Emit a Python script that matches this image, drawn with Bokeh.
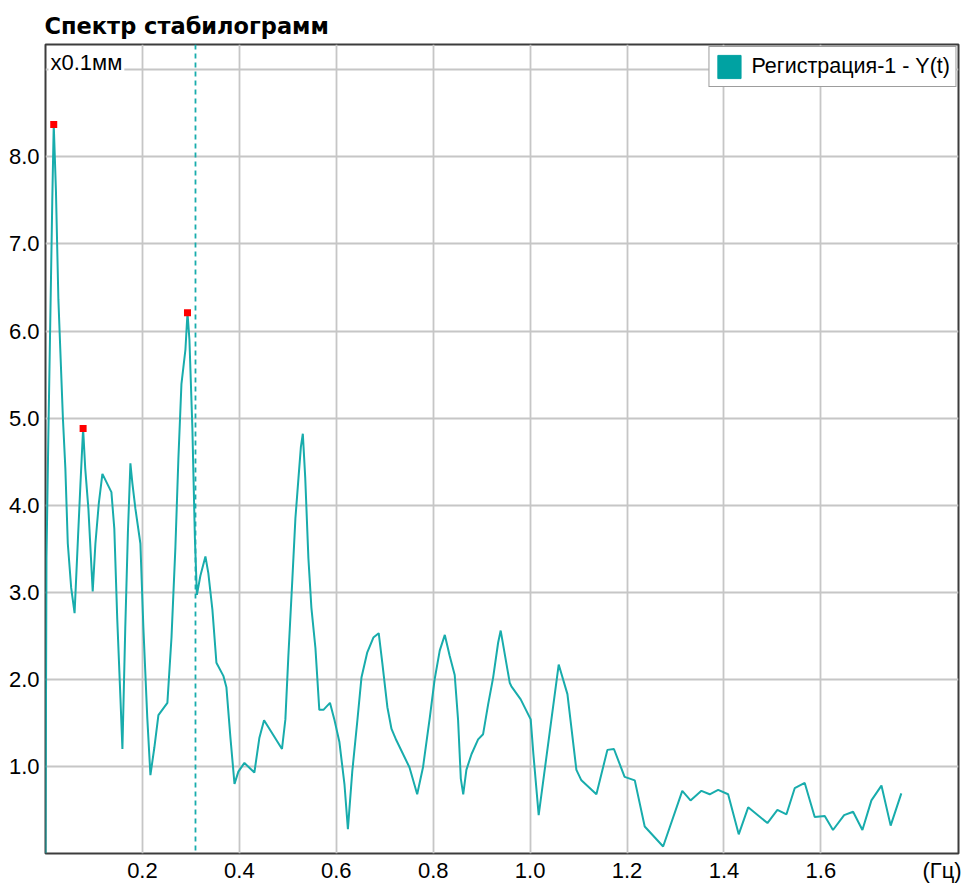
from bokeh.plotting import figure
from bokeh.models import (Range1d, FixedTicker, Span, Label, Legend, LegendItem,
                          NumeralTickFormatter)
from bokeh.embed import file_html
from bokeh.resources import INLINE

# ---------------- data ----------------
TITLE = "Спектр стабилограмм"
SERIES_NAME = "Регистрация-1 - Y(t)"
Y_UNIT = "x0.1мм"
X_UNIT = "(Гц)"

freq = [0.0, 0.002, 0.006, 0.010, 0.014, 0.017, 0.0215, 0.0266, 0.036, 0.041,
        0.046, 0.053, 0.060, 0.067, 0.072, 0.0776, 0.082, 0.0885, 0.0974, 0.103,
        0.110, 0.1174, 0.136, 0.142, 0.148, 0.1546, 0.1587, 0.1646, 0.170, 0.1752,
        0.1793, 0.1855, 0.1958, 0.202, 0.210, 0.2165, 0.2247, 0.233, 0.2515, 0.260,
        0.268, 0.2742, 0.2805, 0.2888, 0.293, 0.297, 0.3031, 0.3083, 0.3124, 0.3196,
        0.330, 0.336, 0.3444, 0.3527, 0.367, 0.3733, 0.3816, 0.390, 0.398, 0.4105,
        0.431, 0.4414, 0.451, 0.488, 0.495, 0.501, 0.5095, 0.5157, 0.522, 0.527,
        0.531, 0.536, 0.5425, 0.5487, 0.557, 0.565, 0.5735, 0.587, 0.596, 0.6065,
        0.617, 0.624, 0.633, 0.6436, 0.652, 0.664, 0.6766, 0.6876, 0.695, 0.7055,
        0.714, 0.724, 0.751, 0.767, 0.779, 0.793, 0.803, 0.8135, 0.824, 0.834,
        0.8444, 0.8514, 0.857, 0.862, 0.8685, 0.879, 0.8927, 0.903, 0.9133, 0.9237,
        0.934, 0.9393, 0.958, 0.9614, 0.9806, 1.0012, 1.0068, 1.0177, 1.059, 1.077,
        1.0955, 1.1058, 1.1368, 1.1595, 1.173, 1.195, 1.216, 1.2365, 1.2745, 1.314,
        1.331, 1.3535, 1.3706, 1.388, 1.4086, 1.4305, 1.45, 1.4897, 1.5103, 1.529,
        1.546, 1.5667, 1.5873, 1.608, 1.625, 1.648, 1.6665, 1.6857, 1.7043, 1.725,
        1.744, 1.766]

amp = [0.0, 3.39, 4.84, 6.16, 7.50, 8.37, 7.62, 6.36, 4.99, 4.42,
       3.56, 3.05, 2.76, 3.62, 4.23, 4.88, 4.42, 3.96, 3.01, 3.56,
       4.02, 4.36, 4.15, 3.73, 2.70, 1.79, 1.20, 2.59, 3.68, 4.48,
       4.25, 3.96, 3.56, 2.59, 1.56, 0.90, 1.22, 1.59, 1.73, 2.48,
       3.51, 4.53, 5.39, 5.79, 6.21, 5.90, 4.88, 3.62, 2.97, 3.19,
       3.41, 3.22, 2.80, 2.19, 2.04, 1.91, 1.33, 0.80, 0.94, 1.04,
       0.93, 1.33, 1.53, 1.20, 1.54, 2.25, 3.16, 3.85, 4.31, 4.67,
       4.82, 4.31, 3.39, 2.82, 2.36, 1.65, 1.65, 1.73, 1.54, 1.28,
       0.79, 0.28, 0.94, 1.53, 2.02, 2.31, 2.48, 2.53, 2.19, 1.68,
       1.43, 1.30, 0.99, 0.68, 0.99, 1.56, 2.00, 2.33, 2.51, 2.27,
       2.05, 1.53, 0.86, 0.68, 0.96, 1.14, 1.31, 1.37, 1.71, 2.02,
       2.42, 2.56, 1.96, 1.92, 1.77, 1.54, 1.14, 0.44, 2.17, 1.83,
       0.96, 0.84, 0.68, 1.19, 1.20, 0.88, 0.84, 0.31, 0.08, 0.72,
       0.61, 0.72, 0.68, 0.73, 0.68, 0.22, 0.53, 0.35, 0.50, 0.45,
       0.75, 0.81, 0.42, 0.43, 0.27, 0.44, 0.48, 0.27, 0.61, 0.78,
       0.32, 0.69]

peak_freq = [0.017, 0.0776, 0.293]
peak_amp = [8.37, 4.88, 6.21]

cursor_freq = 0.3095

x_ticks = [0.2, 0.4, 0.6, 0.8, 1.0, 1.2, 1.4, 1.6]
x_unit_pos = 1.85
y_ticks = [1.0, 2.0, 3.0, 4.0, 5.0, 6.0, 7.0, 8.0]
y_grid = [1.0, 2.0, 3.0, 4.0, 5.0, 6.0, 7.0, 8.0, 9.0]

X_MAX = 1.884
Y_MAX = 9.29

# ---------------- styling ----------------
TEAL = "#18acac"
SWATCH = "#00a2a2"
GRID = "#c6c6c6"
FRAME = "#3c3c3c"
FONT = "Liberation Sans"
NAN = float("nan")

p = figure(width=963, height=885, output_backend="svg", toolbar_location=None,
           x_range=Range1d(0, X_MAX), y_range=Range1d(0, Y_MAX),
           min_border_left=45, min_border_right=5, min_border_top=44,
           min_border_bottom=28)

p.title.text = TITLE
p.title.text_font = "DejaVu Sans"
p.title.text_font_size = "22.5px"
p.title.text_font_style = "bold"
p.title.text_color = "black"
p.title.offset = -1
p.title.standoff = 11

p.outline_line_color = FRAME
p.outline_line_width = 2

# axes
for ax in (p.xaxis[0], p.yaxis[0]):
    ax.axis_line_color = None
    ax.major_tick_line_color = None
    ax.minor_tick_line_color = None
    ax.major_tick_in = 0
    ax.major_tick_out = 0
    ax.minor_tick_in = 0
    ax.minor_tick_out = 0
    ax.major_label_text_font = FONT
    ax.major_label_text_font_size = "22px"
    ax.major_label_text_color = "black"

p.xaxis.ticker = FixedTicker(ticks=x_ticks + [x_unit_pos])
p.xaxis.formatter = NumeralTickFormatter(format="0.0")
p.xaxis.major_label_overrides = {x_unit_pos: X_UNIT}
p.xaxis.major_label_standoff = 4

p.yaxis.ticker = FixedTicker(ticks=y_ticks)
p.yaxis.formatter = NumeralTickFormatter(format="0.0")
p.yaxis.major_label_standoff = 6

p.xgrid.ticker = FixedTicker(ticks=x_ticks)
p.ygrid.ticker = FixedTicker(ticks=y_grid)
for g in (p.xgrid[0], p.ygrid[0]):
    g.grid_line_color = GRID
    g.grid_line_width = 1.8

# cursor line
p.add_layout(Span(location=cursor_freq, dimension="height", line_color=TEAL,
                  line_width=1.8, line_dash="5 4"))

# spectrum
p.line(freq, amp, line_color=TEAL, line_width=2)
p.scatter(peak_freq, peak_amp, marker="square", size=7, fill_color="#ff0000",
          line_color=None)

# legend swatch (filled square; NaN data so nothing is drawn in the plot)
sw = p.quad(left=[NAN], right=[NAN], top=[NAN], bottom=[NAN],
            fill_color=SWATCH, line_color=SWATCH)
legend = Legend(items=[LegendItem(label=SERIES_NAME, renderers=[sw])],
                location="top_right")
legend.margin = 2
legend.padding = 5
legend.glyph_width = 29
legend.glyph_height = 29
legend.label_standoff = 8
legend.label_text_font = FONT
legend.label_text_font_size = "21.5px"
legend.label_text_color = "black"
legend.border_line_color = FRAME
legend.border_line_width = 1
legend.background_fill_color = "white"
legend.background_fill_alpha = 1.0
p.add_layout(legend)

# unit label top-left
p.add_layout(Label(x=0, y=Y_MAX, text=Y_UNIT, text_baseline="top", text_align="left",
                   x_offset=3, y_offset=-3, text_font=FONT, text_font_size="22px",
                   text_color="black", background_fill_color="white",
                   background_fill_alpha=1.0, padding=2))

open("out.html", "w", encoding="utf-8").write(file_html(p, INLINE))
